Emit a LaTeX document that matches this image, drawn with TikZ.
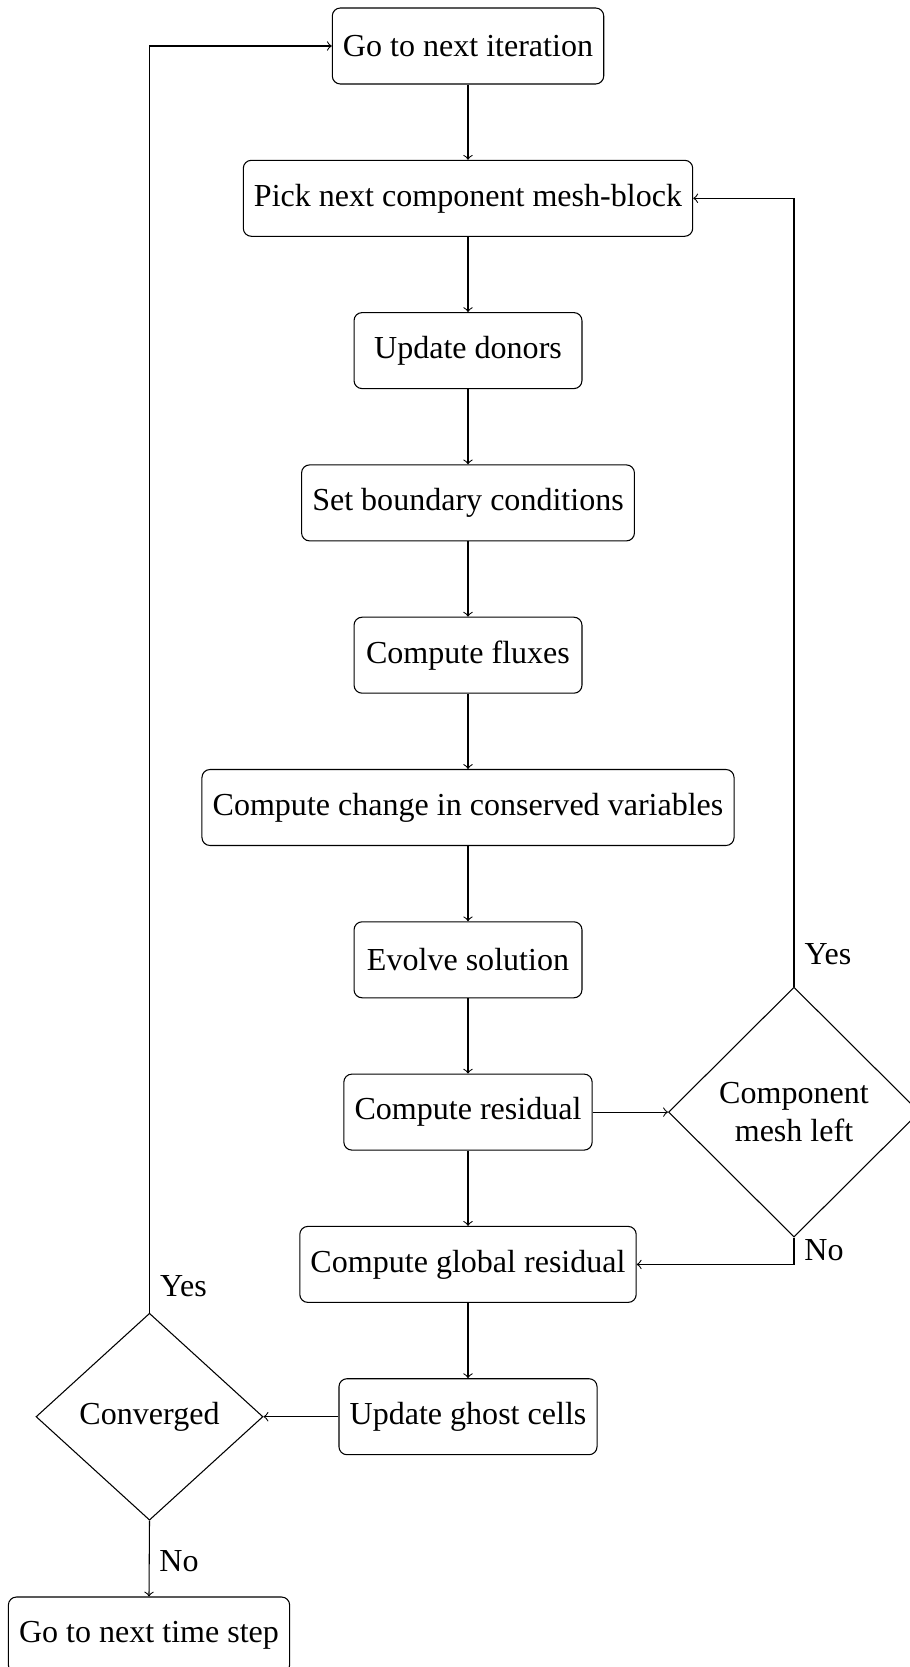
\documentclass[tikz,border=0pt]{standalone}
\usepackage{fontspec}
\setmainfont{Liberation Serif}
\usetikzlibrary{shapes.geometric,calc}
\begin{document}
\begin{tikzpicture}[x=0.3745pt,y=-0.3745pt,
  every node/.style={font=\fontsize{12}{14.4}\selectfont},
  proc/.style={draw, rounded corners=3pt, minimum height=1cm, minimum width=3cm, inner sep=4pt},
  dec/.style={draw, diamond, inner sep=0pt, align=center},
  lbl/.style={inner sep=0pt},
  flow/.style={->}]
\useasboundingbox (0,0) rectangle (909,1667);

% main column of steps
\node[proc] (iter)  at (468,46)     {Go to next iteration};
\node[proc] (pick)  at (468,198.3)  {Pick next component mesh-block};
\node[proc] (donor) at (468,350.6)  {Update donors};
\node[proc] (bc)    at (468,502.9)  {Set boundary conditions};
\node[proc] (flux)  at (468,655.2)  {Compute fluxes};
\node[proc] (delta) at (468,807.5)  {Compute change in conserved variables};
\node[proc] (evol)  at (468,959.8)  {Evolve solution};
\node[proc] (res)   at (468,1112.1) {Compute residual};
\node[proc] (glob)  at (468,1264.4) {Compute global residual};
\node[proc] (ghost) at (468,1416.7) {Update ghost cells};

% decisions
\node[dec, minimum width=94pt, minimum height=93.6pt] (mesh) at (794,1112.1) {Component\\mesh left};
\node[dec, minimum width=85pt, minimum height=77.5pt] (conv) at (149.5,1416.7) {Converged};
\node[proc] (step) at (149,1635) {Go to next time step};

% straight flow
\draw[flow] (iter)  -- (pick);
\draw[flow] (pick)  -- (donor);
\draw[flow] (donor) -- (bc);
\draw[flow] (bc)    -- (flux);
\draw[flow] (flux)  -- (delta);
\draw[flow] (delta) -- (evol);
\draw[flow] (evol)  -- (res);
\draw[flow] (res)   -- (glob);
\draw[flow] (glob)  -- (ghost);
\draw[flow] (res)   -- (mesh);
\draw[flow] (ghost) -- (conv);

% loops back
\draw[flow] (mesh.north) |- (pick.east);
\draw[flow] (mesh.south) |- (glob.east);
\draw[flow] (conv.north) |- (iter.west);
\draw[flow] (conv.south) -- (step.north);

% branch labels
\node[lbl] (yes1) at ($(mesh.north)+(34,-32)$) {Yes};
\node[lbl] (no1)  at ($(mesh.south)+(30,13)$)  {No};
\node[lbl] (yes2) at ($(conv.north)+(34,-27)$) {Yes};
\node[lbl] (no2)  at ($(conv.south)+(29.5,40)$) {No};
\end{tikzpicture}
\end{document}
